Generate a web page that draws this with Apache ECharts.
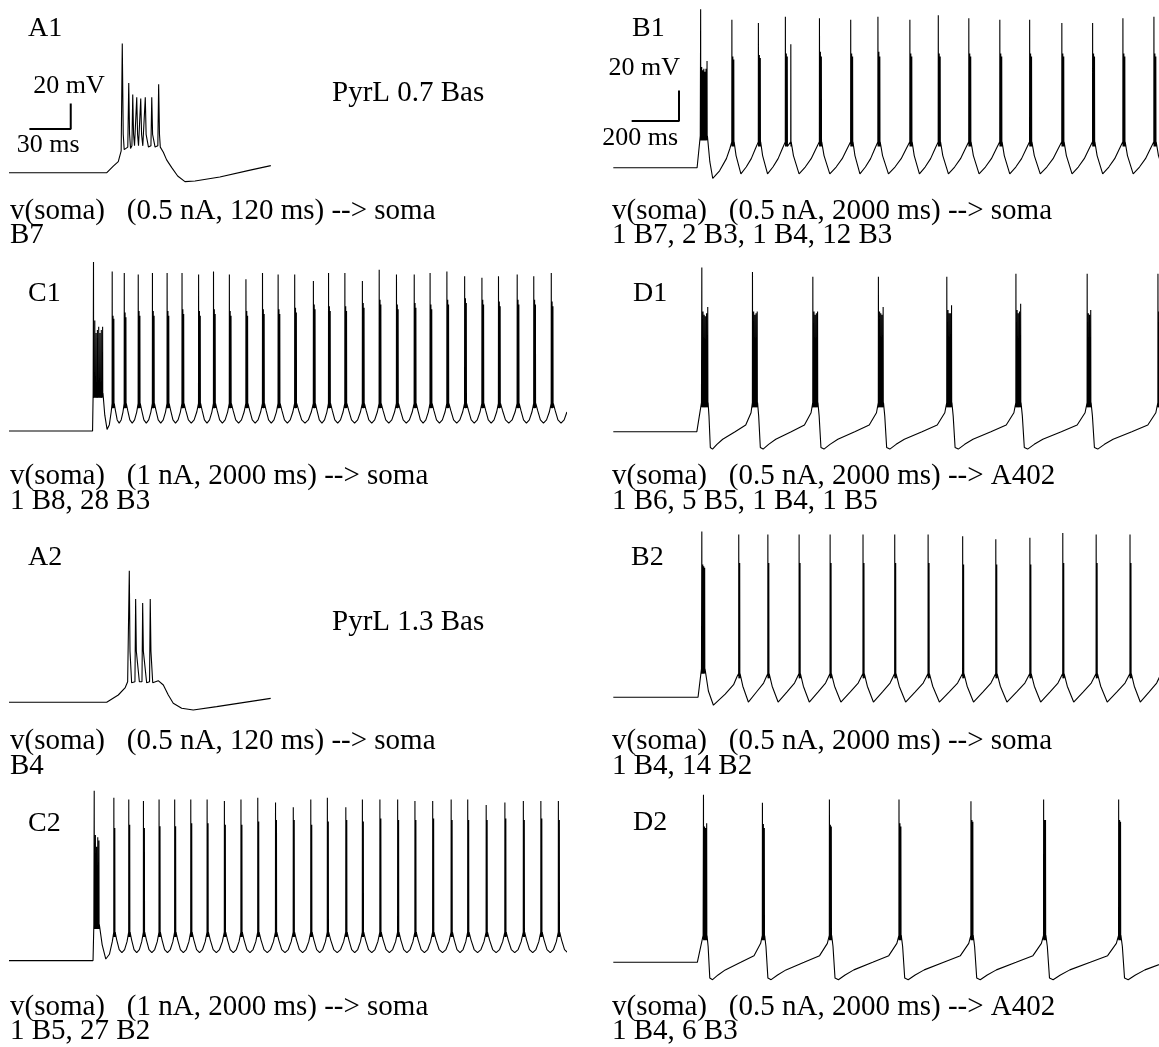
<!DOCTYPE html>
<html><head><meta charset="utf-8">
<script src="https://cdn.jsdelivr.net/npm/echarts/dist/echarts.min.js"></script>
<style>html,body{margin:0;padding:0;background:#fff}#c{width:1159px;height:1047px}</style>
</head><body><div id="c"></div>
<script>
const REST = -70;

// ---- short traces (ms, mV) ----
const A1_TRACE = [[0,-70],[71,-70],[75.7,-64.8],[79.3,-61.4],[81.4,-53],[82.2,31],[82.9,-40],[83.6,-52],
 [86.2,-50],[86.9,0],[87.5,-40],[88.2,-51],[89.2,-49],[89.8,-9],[90.4,-40],[91.1,-49],
 [92.1,-49],[92.7,-11],[93.3,-40],[94.0,-49],[95.0,-49],[95.6,-12],[96.2,-40],[97.1,-49],
 [98.3,-49],[98.9,-11],[99.5,-40],[101.2,-50],[103.0,-49],[103.6,-11],[104.2,-40],[106.0,-50],
 [108.0,-49],[108.6,-1],[109.2,-40],[109.8,-50],[112.0,-54],[114.4,-60],[118.1,-66],
 [122.4,-72.6],[127.7,-77],[135,-76.5],[153,-73.4],[175,-68],[190,-64.5]];
const A2_TRACE = [[0,-70],[70.9,-70],[79.3,-64.3],[84.2,-58.8],[86.1,-53.9],
 [86.9,-53],[87.3,32.8],[87.8,-30],[89.0,-54.7],[91.4,-54],[91.9,10.7],[92.4,-30],[94.6,-53.9],
 [96.5,-54],[97.0,7.6],[97.5,-30],[99.9,-54.7],[102.0,-54],[102.5,10.7],[103.0,-30],[104.3,-54.7],
 [108.3,-53.1],[112.0,-56.5],[115.6,-64.3],[119.2,-70.8],[125.3,-74.7],[133.7,-76],[150.7,-73.4],[189.9,-66.9]];

// ---- burst onset times (ms) and spike peaks (mV) ----
const B1_T = [369,501,613,727,871,1003,1118,1253,1373,1502,1633,1759,1895,2025,2153,2284];
const B1_PEAKS = [[34,-4,-6,-5,-7,-5,0],[27,3,1],[25,4,2],[29,5,3,11],[28,6,3],[27,5,3],[29,6,3],[27,5,3],
 [30,5,3],[28,5,3],[27,5,3],[27,5,3],[25,5,3],[25,5,3],[28,5,3],[29,5,3]];
const B1_SHAPE = [[0.08,-62],[0.28,-74],[0.5,-69.5],[0.71,-64],[0.88,-57.5]];
const B1_FIRST = [[0.1,-66],[0.22,-77],[0.5,-72],[0.78,-64],[0.92,-57.5]];

const C1_T = [357,436,487,546,606,668,731,801,864,931,1001,1071,1137,1207,1286,1350,1419,1493,1564,1637,1712,1779,1850,1925,1998,2068,2147,2217,2291];
const C1_PEAKS = [[37,0,-8,-6,-4,-8,-6,-4],[31,3,1],[30,5,2],[29,6,3],[30,6,3],[30,6,3],[30,7,4],[29,6,3],[31,7,4],
 [29,6,3],[26,6,3],[30,7,4],[29,7,4],[29,8,5],[25,10,7],[30,9,6],[30,9,6],[25,11,8],[32,13,10],[29,10,7],
 [29,11,8],[30,10,7],[31,13,10],[28,14,11],[27,13,10],[28,12,9],[29,13,10],[28,13,10],[30,12,9]];
const C1_SHAPE = [[0.12,-57],[0.3,-63],[0.5,-65],[0.7,-63],[0.88,-58]];
const C1_FIRST = [[0.2,-60],[0.45,-69],[0.7,-66],[0.9,-58]];

const D1_T = [374,588,843,1120,1409,1701,2002,2301];
const D1_PEAKS = [[34,6,4,3,5,9],[31,6,4,5,6],[28,6,4,5,6],[28,6,5,4,9],[28,7,5,5,10],[30,7,5,6,11],[30,5,4,7],[30,6,5,6,10]];
const D1_SHAPE = [[0.02,-60],[0.05,-80],[0.1,-81],[0.2,-78],[0.33,-74.8],[0.61,-70],[0.85,-65.8],[0.97,-58]];

const B2_T = [374,530,653,785,916,1055,1189,1330,1476,1616,1760,1899,2040,2183,2315];
const B2_PEAKS = [[35,14,13,12],[33,15],[33,15],[33,15],[33,15],[33,15],[33,15],[33,15],[32,14],[30,14],[31,14],[34,15],[33,15],[33,15],[33,15]];
const B2_SHAPE = [[0.1,-63],[0.3,-73],[0.6,-66.5],[0.85,-61],[0.95,-57]];
const B2_FIRST = [[0.1,-66],[0.25,-75],[0.6,-68],[0.85,-62],[0.95,-57]];

const C2_T = [360,443,506,568,634,700,768,837,910,980,1051,1126,1201,1275,1345,1423,1493,1567,1642,1715,1790,1868,1938,2016,2095,2173,2247,2321];
const C2_PEAKS = [[37.5,9.5,2,8,6],[33,14],[32,16],[31,14],[32,15],[32,15],[32,17],[32,17],[31,16],[32,16],[33,18],[30,19],[27,19],
 [32,16],[33,18],[27,19],[32,18],[32,20],[32,19],[31,19],[31,20],[32,19],[32,19],[28.5,19],[30,20],[31,19],[31,20],[31,19]];
const C2_SHAPE = [[0.12,-57],[0.3,-63],[0.5,-65],[0.7,-63],[0.88,-58]];
const C2_FIRST = [[0.2,-60],[0.45,-69],[0.7,-66],[0.9,-58]];

const D2_T = [381,630,913,1207,1511,1818,2135];
const D2_PEAKS = [[36,16,15,18],[31,17.5,15],[33,17,16],[33,18,16],[32,20,19],[33,20,20],[33,20,19]];
const D2_SHAPE = [[0.02,-60],[0.05,-80],[0.1,-81],[0.2,-78],[0.33,-74.8],[0.61,-70],[0.85,-65.8],[0.97,-58]];

const CAPTIONS = [
 ['v(soma)   (0.5 nA, 120 ms) --> soma','B7'],
 ['v(soma)   (0.5 nA, 2000 ms) --> soma','1 B7, 2 B3, 1 B4, 12 B3'],
 ['v(soma)   (1 nA, 2000 ms) --> soma','1 B8, 28 B3'],
 ['v(soma)   (0.5 nA, 2000 ms) --> A402','1 B6, 5 B5, 1 B4, 1 B5'],
 ['v(soma)   (0.5 nA, 120 ms) --> soma','B4'],
 ['v(soma)   (0.5 nA, 2000 ms) --> soma','1 B4, 14 B2'],
 ['v(soma)   (1 nA, 2000 ms) --> soma','1 B5, 27 B2'],
 ['v(soma)   (0.5 nA, 2000 ms) --> A402','1 B4, 6 B3']
];
const LABELS = ['A1','B1','C1','D1','A2','B2','C2','D2'];
const NOTES = ['PyrL 0.7 Bas','PyrL 1.3 Bas'];

// ---- build burst traces ----
function buildBursts(T, P, o) {
  const pts = [[0, REST], [o.onset, REST]];
  for (let k = 0; k < T.length; k++) {
    const tb = T[k], pk = P[k];
    const isi = k === 0 ? o.firstIsi : o.isi;
    const base = k === 0 ? o.firstBase : o.base;
    if (k === 0) pts.push([tb - 1.5, base]);
    let tl = tb;
    for (let j = 0; j < pk.length; j++) {
      const off = (o.offsets && o.offsets[k]) ? o.offsets[k][j] : j * isi;
      const ts = tb + off;
      pts.push([ts - 0.4, base], [ts, pk[j]], [ts + 0.6, base - 3]);
      tl = ts;
    }
    const te = tl + 1.5;
    const next = k + 1 < T.length ? T[k + 1] - 0.5 : tb + (tb - T[k - 1]);
    pts.push([te, base]);
    const sh = k === 0 ? (o.firstShape || o.shape) : o.shape;
    for (const [f, v] of sh) pts.push([te + f * (next - te), v]);
  }
  return pts;
}

const B1_DATA = buildBursts(B1_T, B1_PEAKS, {onset:354, base:-53, firstBase:-49, isi:4, firstIsi:4.5, shape:B1_SHAPE, firstShape:B1_FIRST, offsets:{3:[0,4,8,23]}});
const C1_DATA = buildBursts(C1_T, C1_PEAKS, {onset:353, base:-52.5, firstBase:-46, isi:3.5, firstIsi:5.5, shape:C1_SHAPE, firstShape:C1_FIRST});
const D1_DATA = buildBursts(D1_T, D1_PEAKS, {onset:353, base:-51.6, firstBase:-51.6, isi:5, firstIsi:5, shape:D1_SHAPE});
const B2_DATA = buildBursts(B2_T, B2_PEAKS, {onset:358, base:-55, firstBase:-52, isi:4, firstIsi:4, shape:B2_SHAPE, firstShape:B2_FIRST});
const C2_DATA = buildBursts(C2_T, C2_PEAKS, {onset:355, base:-52, firstBase:-47, isi:4, firstIsi:5, shape:C2_SHAPE, firstShape:C2_FIRST});
const D2_DATA = buildBursts(D2_T, D2_PEAKS, {onset:355, base:-53, firstBase:-53, isi:4, firstIsi:4.5, shape:D2_SHAPE});

// ---- layout (pixels) ----
const KX_LONG = 0.2367, KX_SHORT = 1.378, KY_LONG = 1.58, KY_SHORT = 1.28;
const panels = [
  {data:A1_TRACE, x0:9,     base:172.7, kx:KX_SHORT, ky:KY_SHORT, tMax:190},
  {data:B1_DATA,  x0:613.3, base:166.7, kx:KX_LONG,  ky:KY_LONG,  tMax:2305},
  {data:C1_DATA,  x0:9,     base:431,   kx:KX_LONG,  ky:KY_LONG,  tMax:2350},
  {data:D1_DATA,  x0:613.3, base:431.7, kx:KX_LONG,  ky:KY_LONG,  tMax:2305},
  {data:A2_TRACE, x0:9,     base:702.3, kx:KX_SHORT, ky:KY_SHORT, tMax:190},
  {data:B2_DATA,  x0:613.3, base:697.3, kx:KX_LONG,  ky:KY_LONG,  tMax:2305},
  {data:C2_DATA,  x0:9,     base:960.6, kx:KX_LONG,  ky:KY_LONG,  tMax:2350},
  {data:D2_DATA,  x0:613.3, base:962.3, kx:KX_LONG,  ky:KY_LONG,  tMax:2305}
];
const V_MIN = -90, V_MAX = 40;

const grid = [], xAxis = [], yAxis = [], series = [];
panels.forEach((p, i) => {
  grid.push({left:p.x0, width:p.tMax*p.kx, top:p.base-(V_MAX-REST)*p.ky, height:(V_MAX-V_MIN)*p.ky, containLabel:false});
  xAxis.push({gridIndex:i, type:'value', min:0, max:p.tMax, show:false});
  yAxis.push({gridIndex:i, type:'value', min:V_MIN, max:V_MAX, show:false});
  series.push({type:'line', xAxisIndex:i, yAxisIndex:i, data:p.data, showSymbol:false, symbol:'none',
    lineStyle:{color:'#000', width:1.1}, silent:true, clip:true});
});
// scale bars (ms, mV)
const SCALE_A = [[14.8,-35.9],[44.8,-35.9],[44.8,-15.9]];
const SCALE_B = [[77.6,-39.4],[277.6,-39.4],[277.6,-19.4]];
series.push({type:'line', xAxisIndex:0, yAxisIndex:0, data:SCALE_A, showSymbol:false, symbol:'none', lineStyle:{color:'#000', width:2}, silent:true});
series.push({type:'line', xAxisIndex:1, yAxisIndex:1, data:SCALE_B, showSymbol:false, symbol:'none', lineStyle:{color:'#000', width:2}, silent:true});

const FONT = '"Liberation Serif", "Times New Roman", serif';
function txt(s, x, baseline, size, align) {
  return {type:'text', x:x, y:baseline - 0.34*size, z:10, silent:true,
    style:{text:s, font:size+'px '+FONT, fill:'#000', textAlign:align||'left', textVerticalAlign:'middle'}};
}
const graphic = [];
const labelPos = [[28,38],[632,38.3],[28,303.5],[633,303],[28,567],[631,567],[28,833],[633,832]];
LABELS.forEach((l,i)=>graphic.push(txt(l, labelPos[i][0], labelPos[i][1], 28)));
graphic.push(txt(NOTES[0], 332, 103, 29));
graphic.push(txt(NOTES[1], 332, 632.6, 29));
graphic.push(txt('20 mV', 33.3, 95, 26));
graphic.push(txt('30 ms', 16.7, 154, 26));
graphic.push(txt('20 mV', 680, 77.3, 26, 'right'));
graphic.push(txt('200 ms', 678, 146.7, 26, 'right'));
const capBase = [221, 486.3, 751.6, 1016.9];
CAPTIONS.forEach((c,i)=>{
  const row = Math.floor(i/2), x = i%2 ? 612 : 10;
  graphic.push(txt(c[0], x, capBase[row], 29));
  graphic.push(txt(c[1], x, capBase[row]+24.5, 29));
});

const chart = echarts.init(document.getElementById('c'), null, {renderer:'canvas'});
chart.setOption({animation:false, backgroundColor:'#fff', grid, xAxis, yAxis, series, graphic});
</script></body></html>
